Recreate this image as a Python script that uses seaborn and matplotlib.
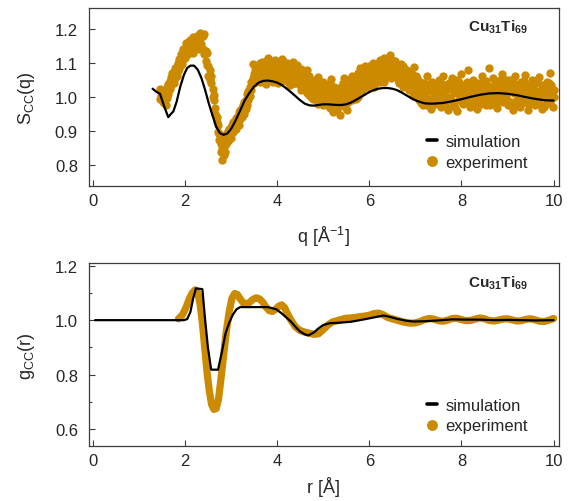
import numpy as np
import pandas as pd
import matplotlib
matplotlib.use("Agg")
import matplotlib.pyplot as plt
from matplotlib.lines import Line2D
from matplotlib.ticker import MultipleLocator, FormatStrFormatter
import seaborn as sns

# ---- data ----
# S_CC(q), simulation
q_sim = [1.30, 1.38, 1.46, 1.55, 1.64, 1.70, 1.75, 1.82, 1.90, 1.98, 2.05, 2.12,
         2.20, 2.28, 2.36, 2.44, 2.52, 2.60, 2.68, 2.76, 2.84, 2.92, 3.00, 3.10,
         3.20, 3.30, 3.40, 3.50, 3.60, 3.70, 3.80, 3.90, 4.00, 4.10, 4.20, 4.30,
         4.40, 4.50, 4.60, 4.70, 4.80, 4.90, 5.00, 5.10, 5.20, 5.30, 5.40, 5.50,
         5.60, 5.70, 5.80, 5.90, 6.00, 6.10, 6.20, 6.30, 6.40, 6.50, 6.60, 6.70,
         6.80, 6.90, 7.00, 7.10, 7.20, 7.30, 7.40, 7.60, 7.80, 8.00, 8.20, 8.40,
         8.60, 8.80, 9.00, 9.20, 9.40, 9.60, 9.80, 10.00]
s_sim = [1.024, 1.015, 1.009, 0.972, 0.940, 0.950, 0.957, 0.985, 1.030, 1.065, 1.085, 1.092,
         1.092, 1.080, 1.055, 1.020, 0.980, 0.945, 0.912, 0.893, 0.888, 0.892, 0.905, 0.930,
         0.960, 0.990, 1.012, 1.030, 1.042, 1.047, 1.048, 1.046, 1.042, 1.035, 1.025, 1.014,
         1.002, 0.990, 0.980, 0.975, 0.974, 0.976, 0.978, 0.978, 0.977, 0.976, 0.976, 0.978,
         0.983, 0.990, 0.998, 1.006, 1.014, 1.020, 1.024, 1.026, 1.026, 1.024, 1.020, 1.013,
         1.005, 0.997, 0.990, 0.985, 0.981, 0.980, 0.980, 0.982, 0.987, 0.993, 1.000, 1.006,
         1.010, 1.011, 1.009, 1.005, 0.999, 0.994, 0.990, 0.989]

# S_CC(q), experiment: two scattered readings per q
q_exp = [1.46, 1.49, 1.52, 1.55, 1.58, 1.61, 1.64, 1.67, 1.70, 1.73,
         1.76, 1.79, 1.82, 1.85, 1.88, 1.91, 1.94, 1.97, 2.00, 2.03,
         2.06, 2.09, 2.12, 2.15, 2.18, 2.21, 2.24, 2.27, 2.30, 2.33,
         2.36, 2.39, 2.42, 2.45, 2.48, 2.51, 2.54, 2.57, 2.60, 2.63,
         2.66, 2.69, 2.72, 2.75, 2.78, 2.81, 2.84, 2.87, 2.90, 2.93,
         2.96, 2.99, 3.02, 3.05, 3.08, 3.11, 3.14, 3.17, 3.20, 3.23,
         3.26, 3.29, 3.32, 3.35, 3.38, 3.41, 3.44, 3.47, 3.50, 3.53,
         3.56, 3.59, 3.62, 3.65, 3.68, 3.71, 3.74, 3.77, 3.80, 3.83,
         3.86, 3.89, 3.92, 3.95, 3.98, 4.01, 4.04, 4.07, 4.10, 4.13,
         4.16, 4.19, 4.22, 4.25, 4.28, 4.31, 4.34, 4.37, 4.40, 4.43,
         4.46, 4.49, 4.52, 4.55, 4.58, 4.61, 4.64, 4.67, 4.70, 4.73,
         4.76, 4.79, 4.82, 4.85, 4.88, 4.91, 4.94, 4.97, 5.00, 5.03,
         5.06, 5.09, 5.12, 5.15, 5.18, 5.21, 5.24, 5.27, 5.30, 5.33,
         5.36, 5.39, 5.42, 5.45, 5.48, 5.51, 5.54, 5.57, 5.60, 5.63,
         5.66, 5.69, 5.72, 5.75, 5.78, 5.81, 5.84, 5.87, 5.90, 5.93,
         5.96, 5.99, 6.02, 6.05, 6.08, 6.11, 6.14, 6.17, 6.20, 6.23,
         6.26, 6.29, 6.32, 6.35, 6.38, 6.41, 6.44, 6.47, 6.50, 6.53,
         6.56, 6.59, 6.62, 6.65, 6.68, 6.71, 6.74, 6.77, 6.80, 6.83,
         6.86, 6.89, 6.92, 6.95, 6.98, 7.01, 7.04, 7.07, 7.10, 7.13,
         7.16, 7.19, 7.22, 7.25, 7.28, 7.31, 7.34, 7.37, 7.40, 7.43,
         7.46, 7.49, 7.52, 7.55, 7.58, 7.61, 7.64, 7.67, 7.70, 7.73,
         7.76, 7.79, 7.82, 7.85, 7.88, 7.91, 7.94, 7.97, 8.00, 8.03,
         8.06, 8.09, 8.12, 8.15, 8.18, 8.21, 8.24, 8.27, 8.30, 8.33,
         8.36, 8.39, 8.42, 8.45, 8.48, 8.51, 8.54, 8.57, 8.60, 8.63,
         8.66, 8.69, 8.72, 8.75, 8.78, 8.81, 8.84, 8.87, 8.90, 8.93,
         8.96, 8.99, 9.02, 9.05, 9.08, 9.11, 9.14, 9.17, 9.20, 9.23,
         9.26, 9.29, 9.32, 9.35, 9.38, 9.41, 9.44, 9.47, 9.50, 9.53,
         9.56, 9.59, 9.62, 9.65, 9.68, 9.71, 9.74, 9.77, 9.80, 9.83,
         9.86, 9.89, 9.92, 9.95, 9.98, 10.00]
s_exp_a = [1.022, 1.004, 0.985, 1.010, 0.976, 1.030, 1.008, 1.048, 1.034, 1.070,
           1.040, 1.085, 1.062, 1.100, 1.082, 1.125, 1.098, 1.140, 1.115, 1.158,
           1.125, 1.165, 1.138, 1.172, 1.130, 1.160, 1.148, 1.178, 1.140, 1.188,
           1.175, 1.140, 1.185, 1.105, 1.128, 1.062, 1.078, 1.040, 1.022, 0.990,
           0.968, 0.925, 0.918, 0.872, 0.862, 0.815, 0.852, 0.838, 0.890, 0.870,
           0.905, 0.880, 0.918, 0.895, 0.930, 0.905, 0.942, 0.918, 0.962, 0.940,
           0.975, 0.950, 0.992, 0.975, 1.018, 1.002, 1.045, 1.098, 1.040, 1.078,
           1.055, 1.092, 1.045, 1.075, 1.102, 1.060, 1.085, 1.038, 1.115, 1.068,
           1.095, 1.050, 1.080, 1.108, 1.062, 1.040, 1.090, 1.072, 1.112, 1.055,
           1.082, 1.048, 1.100, 1.065, 1.035, 1.090, 1.058, 1.078, 1.040, 1.095,
           1.060, 1.035, 1.082, 1.050, 1.025, 1.070, 1.010, 1.045, 1.062, 1.000,
           1.035, 0.995, 1.050, 1.015, 0.980, 1.040, 1.005, 1.030, 0.975, 1.018,
           0.985, 1.035, 1.000, 0.968, 1.052, 1.010, 0.980, 1.025, 0.960, 1.005,
           0.945, 1.030, 0.990, 1.055, 0.970, 1.012, 0.985, 1.040, 1.000, 1.060,
           1.010, 1.048, 0.995, 1.070, 1.030, 1.085, 1.015, 1.058, 1.040, 1.075,
           1.030, 1.090, 1.060, 1.040, 1.100, 1.072, 1.048, 1.095, 1.065, 1.108,
           1.050, 1.090, 1.115, 1.062, 1.100, 1.080, 1.122, 1.055, 1.095, 1.070,
           1.105, 1.060, 1.085, 1.040, 1.098, 1.070, 1.030, 1.082, 1.050, 1.065,
           1.020, 1.075, 1.040, 1.002, 1.088, 1.030, 1.055, 0.990, 1.045, 1.010,
           0.975, 1.040, 1.000, 1.060, 0.985, 1.025, 0.965, 1.045, 1.005, 0.980,
           1.030, 0.990, 1.050, 0.970, 1.015, 1.060, 0.985, 1.020, 0.960, 1.040,
           1.000, 1.055, 0.975, 1.030, 1.010, 0.958, 1.045, 0.990, 1.068, 1.020,
           0.985, 1.035, 1.005, 1.078, 0.970, 1.025, 1.050, 0.995, 1.015, 0.965,
           1.040, 1.010, 0.980, 1.060, 1.020, 0.990, 1.048, 1.005, 1.085, 0.975,
           1.030, 1.055, 0.995, 1.015, 0.968, 1.042, 1.010, 1.068, 0.985, 1.025,
           1.000, 1.050, 0.975, 1.020, 1.038, 0.962, 1.012, 1.060, 0.990, 1.030,
           0.970, 1.045, 1.005, 0.985, 1.065, 1.020, 0.960, 1.035, 0.995, 1.050,
           1.010, 0.975, 1.040, 0.990, 1.058, 1.000, 0.965, 1.030, 1.015, 0.980,
           1.045, 0.990, 1.070, 1.005, 0.970, 1.020]
s_exp_b = [0.995, 1.018, 1.008, 0.982, 1.002, 0.998, 1.038, 1.022, 1.058, 1.045,
           1.072, 1.055, 1.092, 1.075, 1.112, 1.095, 1.130, 1.112, 1.128, 1.145,
           1.150, 1.132, 1.168, 1.150, 1.175, 1.142, 1.170, 1.152, 1.182, 1.158,
           1.155, 1.178, 1.125, 1.135, 1.095, 1.090, 1.050, 1.060, 1.000, 1.005,
           0.948, 0.942, 0.895, 0.890, 0.838, 0.845, 0.828, 0.875, 0.860, 0.900,
           0.888, 0.912, 0.896, 0.925, 0.910, 0.938, 0.922, 0.955, 0.935, 0.968,
           0.955, 0.985, 0.965, 1.008, 0.990, 1.030, 1.020, 1.055, 1.068, 1.050,
           1.080, 1.062, 1.100, 1.050, 1.070, 1.095, 1.042, 1.105, 1.060, 1.090,
           1.065, 1.100, 1.045, 1.075, 1.095, 1.068, 1.058, 1.100, 1.048, 1.082,
           1.060, 1.095, 1.072, 1.045, 1.088, 1.055, 1.102, 1.042, 1.085, 1.060,
           1.085, 1.048, 1.020, 1.072, 1.060, 1.038, 1.078, 1.025, 1.005, 1.048,
           1.010, 1.042, 1.000, 1.028, 1.058, 0.990, 1.022, 0.985, 1.045, 0.998,
           1.025, 0.975, 1.015, 1.040, 0.990, 0.955, 1.030, 0.995, 1.015, 0.975,
           1.010, 0.975, 1.040, 0.995, 1.025, 0.960, 1.050, 1.005, 1.030, 0.990,
           1.045, 1.020, 1.060, 1.000, 1.050, 1.035, 1.072, 1.030, 1.090, 1.048,
           1.075, 1.050, 1.082, 1.095, 1.055, 1.030, 1.085, 1.060, 1.100, 1.045,
           1.085, 1.065, 1.045, 1.100, 1.075, 1.110, 1.060, 1.092, 1.078, 1.105,
           1.075, 1.095, 1.050, 1.080, 1.060, 1.045, 1.090, 1.055, 1.078, 1.035,
           1.060, 1.030, 1.068, 1.050, 1.015, 1.062, 1.005, 1.040, 1.025, 0.982,
           1.025, 0.990, 1.035, 0.975, 1.018, 0.995, 1.040, 0.980, 1.030, 1.010,
           0.990, 1.025, 1.000, 1.042, 0.980, 1.005, 1.035, 0.970, 1.025, 0.995,
           1.035, 0.988, 1.020, 0.970, 1.050, 1.015, 0.990, 1.035, 1.000, 0.978,
           1.020, 0.995, 1.045, 0.985, 1.030, 0.990, 1.010, 1.040, 0.975, 1.028,
           0.995, 1.035, 1.022, 0.990, 1.045, 1.010, 0.975, 1.032, 1.000, 1.020,
           0.992, 1.010, 1.040, 0.978, 1.030, 1.000, 1.050, 0.990, 1.035, 1.005,
           1.030, 0.990, 1.025, 1.050, 0.985, 1.015, 1.040, 0.978, 1.022, 1.000,
           1.015, 0.990, 1.030, 1.048, 0.985, 1.010, 1.035, 0.980, 1.020, 1.012,
           1.040, 1.020, 0.995, 1.050, 1.015, 0.978, 1.035, 1.005, 0.970, 1.028,
           1.010, 1.040, 0.985, 1.035, 1.020, 1.000]

# g_CC(r), simulation
r_sim = [0.05, 1.98, 2.05, 2.12, 2.18, 2.24, 2.38, 2.44, 2.50, 2.57, 2.72, 2.80,
         2.88, 2.96, 3.04, 3.12, 3.20, 3.50, 3.80, 3.98, 4.10, 4.20, 4.30, 4.40,
         4.50, 4.60, 4.68, 4.80, 4.90, 5.00, 5.15, 5.30, 5.45, 5.60, 5.80, 5.95,
         6.10, 6.31, 6.45, 6.60, 6.80, 6.96, 7.20, 7.50, 7.80, 8.10, 8.40, 8.70,
         9.00, 9.30, 9.60, 10.00]
g_sim = [1.000, 1.000, 1.004, 1.030, 1.080, 1.117, 1.114, 1.000, 0.900, 0.818, 0.818, 0.880,
         0.950, 0.990, 1.020, 1.040, 1.048, 1.048, 1.048, 1.040, 1.025, 1.010, 0.995, 0.975,
         0.958, 0.948, 0.944, 0.955, 0.970, 0.982, 0.989, 0.990, 0.992, 0.994, 1.000, 1.005,
         1.010, 1.017, 1.012, 1.005, 0.998, 0.995, 0.996, 0.999, 1.003, 1.002, 1.002, 1.000,
         1.001, 1.000, 0.999, 1.000]

# g_CC(r), experiment
r_exp = [1.86, 1.95, 2.02, 2.10, 2.16, 2.22, 2.28, 2.33, 2.38, 2.43, 2.48, 2.53,
         2.58, 2.63, 2.68, 2.73, 2.78, 2.84, 2.90, 2.96, 3.02, 3.08, 3.14, 3.20,
         3.27, 3.34, 3.41, 3.48, 3.55, 3.62, 3.69, 3.76, 3.83, 3.90, 3.97, 4.04,
         4.10, 4.16, 4.22, 4.30, 4.40, 4.50, 4.60, 4.70, 4.80, 4.90, 5.00, 5.10,
         5.20, 5.30, 5.40, 5.50, 5.60, 5.70, 5.80, 5.90, 6.00, 6.10, 6.20, 6.30,
         6.40, 6.50, 6.60, 6.70, 6.80, 6.90, 7.00, 7.10, 7.20, 7.30, 7.40, 7.50,
         7.60, 7.70, 7.80, 7.90, 8.00, 8.10, 8.20, 8.30, 8.40, 8.50, 8.60, 8.70,
         8.80, 8.90, 9.00, 9.10, 9.20, 9.30, 9.40, 9.50, 9.60, 9.70, 9.80, 9.90,
         10.00]
g_exp = [1.005, 1.020, 1.045, 1.080, 1.100, 1.111, 1.100, 1.060, 0.990, 0.900, 0.810, 0.740,
         0.690, 0.672, 0.675, 0.710, 0.780, 0.870, 0.960, 1.030, 1.080, 1.098, 1.094, 1.078,
         1.063, 1.060, 1.066, 1.077, 1.082, 1.078, 1.066, 1.048, 1.035, 1.032, 1.040, 1.052,
         1.056, 1.047, 1.026, 1.000, 0.975, 0.962, 0.956, 0.952, 0.948, 0.950, 0.965, 0.982,
         0.993, 0.998, 1.003, 1.007, 1.008, 1.010, 1.013, 1.015, 1.018, 1.024, 1.026, 1.020,
         1.010, 1.005, 1.000, 0.995, 0.991, 0.989, 0.990, 0.995, 1.002, 1.006, 1.004, 0.998,
         0.996, 1.000, 1.006, 1.007, 1.002, 0.998, 0.999, 1.004, 1.008, 1.005, 0.999, 0.997,
         1.000, 1.004, 1.005, 1.001, 0.997, 0.998, 1.003, 1.005, 1.001, 0.996, 0.995, 1.000,
         1.006]

label_text = r"$\mathbf{Cu_{31}Ti_{69}}$"
ORANGE = "#cc8a00"
SPINE = "#3c3c3c"

sns.set_style("ticks")
plt.rcParams["font.family"] = ["Liberation Sans", "DejaVu Sans"]
plt.rcParams["mathtext.fontset"] = "custom"
plt.rcParams["mathtext.rm"] = "Liberation Sans"
plt.rcParams["mathtext.it"] = "Liberation Sans:italic"
plt.rcParams["mathtext.bf"] = "Liberation Sans:bold"

df_sq_sim = pd.DataFrame({"q": q_sim, "S": s_sim})
df_sq_exp = pd.DataFrame({"q": q_exp + q_exp, "S": s_exp_a + s_exp_b})
df_gr_sim = pd.DataFrame({"r": r_sim, "g": g_sim})
df_gr_exp = pd.DataFrame({"r": r_exp, "g": g_exp})

fig = plt.figure(figsize=(5.69, 5.02), dpi=100)
ax1 = fig.add_axes([0.1564, 0.6281, 0.8255, 0.3540])
ax2 = fig.add_axes([0.1564, 0.1096, 0.8255, 0.3639])

# top: S_CC(q)
sns.scatterplot(data=df_sq_exp, x="q", y="S", ax=ax1, color=ORANGE, s=36,
                linewidth=0, legend=False, zorder=2)
sns.lineplot(data=df_sq_sim, x="q", y="S", ax=ax1, color="black", lw=1.6,
             estimator=None, sort=False, legend=False, zorder=3)
ax1.set_xlim(-0.08, 10.11)
ax1.set_ylim(0.738, 1.262)
ax1.set_xticks([0, 2, 4, 6, 8, 10])
ax1.set_yticks([0.8, 0.9, 1.0, 1.1, 1.2])
ax1.set_xlabel("q [Å$^{-1}$]", fontsize=13, labelpad=12)
ax1.set_ylabel(r"S$_\mathregular{CC}$(q)", fontsize=13, labelpad=13)

# bottom: g_CC(r)
sns.lineplot(data=df_gr_exp, x="r", y="g", ax=ax2, color=ORANGE, lw=5.2,
             estimator=None, sort=False, legend=False, zorder=2,
             solid_capstyle="round", solid_joinstyle="round")
sns.lineplot(data=df_gr_sim, x="r", y="g", ax=ax2, color="black", lw=1.6,
             estimator=None, sort=False, legend=False, zorder=3)
ax2.set_xlim(-0.08, 10.11)
ax2.set_ylim(0.5375, 1.209)
ax2.set_xticks([0, 2, 4, 6, 8, 10])
ax2.set_yticks([0.6, 0.8, 1.0, 1.2])
ax2.yaxis.set_minor_locator(MultipleLocator(0.1))
ax2.set_xlabel("r [Å]", fontsize=13, labelpad=6)
ax2.set_ylabel(r"g$_\mathregular{CC}$(r)", fontsize=13, labelpad=13)

handles = [Line2D([], [], color="black", lw=2.6),
           Line2D([], [], color=ORANGE, marker="o", ls="", ms=6.8)]
legend_anchor = {ax1: (0.96, 0.025), ax2: (0.96, 0.005)}
for ax in (ax1, ax2):
    for sp in ax.spines.values():
        sp.set_visible(True)
        sp.set_color(SPINE)
        sp.set_linewidth(0.9)
    ax.tick_params(which="major", direction="in", length=4, width=0.8,
                   color=SPINE, labelsize=12)
    ax.tick_params(axis="y", which="major", pad=8)
    ax.tick_params(axis="x", which="major", pad=5)
    ax.tick_params(which="minor", direction="in", length=2.5, width=0.8, color=SPINE)
    ax.xaxis.set_major_formatter(FormatStrFormatter("%d"))
    ax.yaxis.set_major_formatter(FormatStrFormatter("%.1f"))
    ax.text(0.935, 0.895, label_text, transform=ax.transAxes, ha="right",
            va="center", fontsize=11)
    ax.legend(handles, ["simulation", "experiment"], loc="lower right",
              bbox_to_anchor=legend_anchor[ax], frameon=False, fontsize=12,
              handlelength=0.6, handletextpad=0.5, labelspacing=0.35,
              borderpad=0.2)

fig.savefig("out.png", dpi=100)
